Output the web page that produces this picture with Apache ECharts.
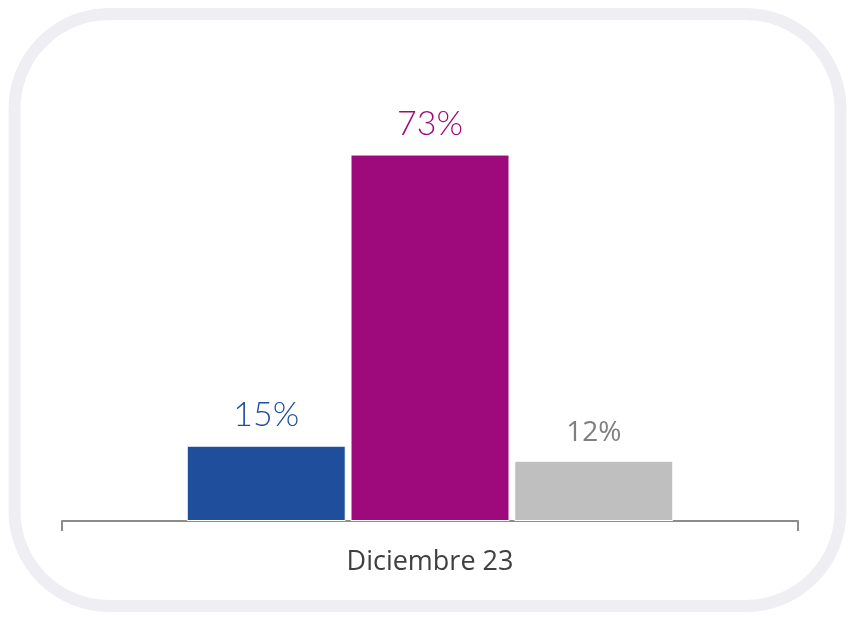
<!DOCTYPE html>
<html>
<head>
<meta charset="utf-8">
<script src="https://cdn.jsdelivr.net/npm/echarts@6/dist/echarts.min.js"></script>
<style>html,body{margin:0;padding:0;background:#fff;}#c{width:855px;height:617px;}</style>
</head>
<body>
<div id="c"></div>
<script>
var categories = ['Diciembre 23'];
var seriesNames = ['A', 'B', 'C'];
var valuesA = [15];
var valuesB = [73];
var valuesC = [12];
var colors = ['#1f4f9c', '#9e0a7c', '#bfbfbf'];
var labelColors = ['#1f4f9c', '#9e0a7c', '#7f7f7f'];

var chart = echarts.init(document.getElementById('c'));
function mk(name, data, i, font, weight, size) {
  return {
    name: name, type: 'bar', data: data, barWidth: 159, barGap: '3%',
    itemStyle: { color: colors[i], borderColor: '#fff', borderWidth: 1 },
    label: { show: true, position: 'top', distance: 14, formatter: '{c}%',
      color: labelColors[i], fontFamily: font, fontWeight: weight, fontSize: size },
    animation: false
  };
}
chart.setOption({
  animation: false,
  graphic: [{
    type: 'rect', shape: { x: 14.5, y: 14, width: 826, height: 592, r: 95 },
    style: { fill: 'none', stroke: '#efeff3', lineWidth: 12 }, z: -1
  }],
  grid: { left: 62, right: 57, top: 19, bottom: 96 },
  xAxis: {
    type: 'category', data: categories,
    axisLine: { lineStyle: { color: '#8c8c8c', width: 2 } },
    axisTick: { show: true, length: 10, lineStyle: { color: '#8c8c8c', width: 2 } },
    axisLabel: { color: '#404040', fontFamily: 'Open Sans', fontSize: 27, margin: 28 }
  },
  yAxis: { type: 'value', min: 0, max: 100, show: false, splitLine: { show: false } },
  series: [
    mk(seriesNames[0], valuesA, 0, 'Lato', 300, 34),
    mk(seriesNames[1], valuesB, 1, 'Lato', 300, 34),
    mk(seriesNames[2], valuesC, 2, 'Open Sans', 400, 28)
  ]
});
</script>
</body>
</html>
